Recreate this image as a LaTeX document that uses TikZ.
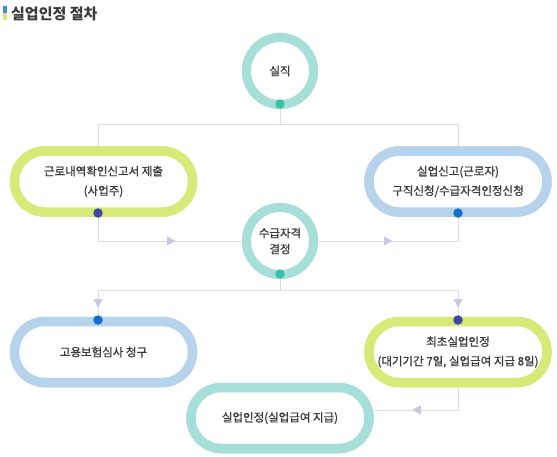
\documentclass[tikz,border=0pt]{standalone}
\usepackage{fontspec}
\setmainfont{Noto Sans CJK KR}
\newfontfamily\krmed{Noto Sans CJK KR}[FakeBold=1.0]
\usetikzlibrary{shapes.misc,decorations.markings,arrows.meta}
\definecolor{ringteal}{HTML}{A6DFD8}
\definecolor{ringlime}{HTML}{D6EA78}
\definecolor{ringblue}{HTML}{B7D3EC}
\definecolor{dotteal}{HTML}{3EBFAA}
\definecolor{dotnavy}{HTML}{3F47A0}
\definecolor{dotblue}{HTML}{1470D0}
\definecolor{linecol}{HTML}{DCDCEC}
\definecolor{arrcol}{HTML}{C6C7E0}
\definecolor{txt}{HTML}{3A3A3A}
\tikzset{
  pill/.style={rounded rectangle, line width=9.5pt, fill=white, minimum width=178pt, minimum height=61pt, inner sep=0pt, align=center, text=txt, font=\krmed\fontsize{11.5}{19.5}\selectfont},
  ring/.style={circle, line width=9pt, fill=white, minimum size=67pt, inner sep=0pt, align=center, text=txt, font=\krmed\fontsize{11.5}{16}\selectfont},
  dotc/.style={circle, inner sep=0pt, minimum size=9.5pt},
  conn/.style={draw=linecol, line width=0.9pt},
  tri/.style={decoration={markings, mark=at position #1 with {\fill[arrcol] (-4pt,-4.5pt) -- (4.5pt,0pt) -- (-4pt,4.5pt) -- cycle;}}, postaction={decorate}},
}
\begin{document}
\begin{tikzpicture}[x=1pt,y=-1pt]
\useasboundingbox (0,0) rectangle (557,456);
% title
\fill[dotblue!80] (3,6) rectangle (7,13);
\fill[ringlime] (3,13) rectangle (7,20);
\node[anchor=west, text=txt, font=\fontsize{15}{17}\selectfont\bfseries, inner sep=0pt] (title) at (11,14) {실업인정 절차};

% connector junctions
\coordinate (j1) at (280,124);
\coordinate (j2) at (280,290);

% nodes (drawn first for names)
\node[ring, draw=ringteal] (c1) at (280,71) {실직};
\node[ring, draw=ringteal] (c2) at (280,241) {수급자격\\결정};
\node[pill, draw=ringlime] (l1) at (103.5,181.5) {근로내역확인신고서 제출\\(사업주)};
\node[pill, draw=ringblue] (r1) at (458,181.5) {실업신고(근로자)\\구직신청/수급자격인정신청};
\node[pill, draw=ringblue] (l2) at (103.5,352) {고용보험심사 청구};
\node[pill, draw=ringlime] (r2) at (458,352) {최초실업인정\\(대기기간 7일, 실업급여 지급 8일)};
\node[pill, draw=ringteal] (b) at (280,418) {실업인정(실업급여 지급)};

% connectors
\draw[conn] (c1.south) -- (j1);
\draw[conn] (j1) -- (98,124) -- (l1.north -| 98,0);
\draw[conn] (j1) -- (458,124) -- (r1.north -| 458,0);
\draw[conn, tri=101pt] (98,213) -- (98,241) -- (c2.west);
\draw[conn, tri=70pt] (c2.east) -- (458,241) -- (458,213);
\draw[conn] (c2.south) -- (j2);
\draw[conn, tri=195pt] (j2) -- (98,290) -- (l2.north -| 98,0);
\draw[conn, tri=191pt] (j2) -- (458,290) -- (r2.north -| 458,0);
\draw[conn, tri=64pt] (r2.south -| 458,0) -- (458,410) -- (b.east |- 0,410);

% redraw rings and pills above lines
\node[ring, draw=ringteal] at (c1) {실직};
\node[ring, draw=ringteal] at (c2) {수급자격\\결정};
\node[pill, draw=ringlime] at (l1) {근로내역확인신고서 제출\\(사업주)};
\node[pill, draw=ringblue] at (r1) {실업신고(근로자)\\구직신청/수급자격인정신청};
\node[pill, draw=ringblue] at (l2) {고용보험심사 청구};
\node[pill, draw=ringlime] at (r2) {최초실업인정\\(대기기간 7일, 실업급여 지급 8일)};
\node[pill, draw=ringteal] at (b) {실업인정(실업급여 지급)};

% dots
\node[dotc, fill=dotteal] (d1) at (280,104) {};
\node[dotc, fill=dotteal] (d2) at (280,274) {};
\node[dotc, fill=dotnavy] (d3) at (98,213) {};
\node[dotc, fill=dotblue] (d4) at (458,213) {};
\node[dotc, fill=dotblue] (d5) at (98,320) {};
\node[dotc, fill=dotnavy] (d6) at (458,320) {};
\end{tikzpicture}
\end{document}
